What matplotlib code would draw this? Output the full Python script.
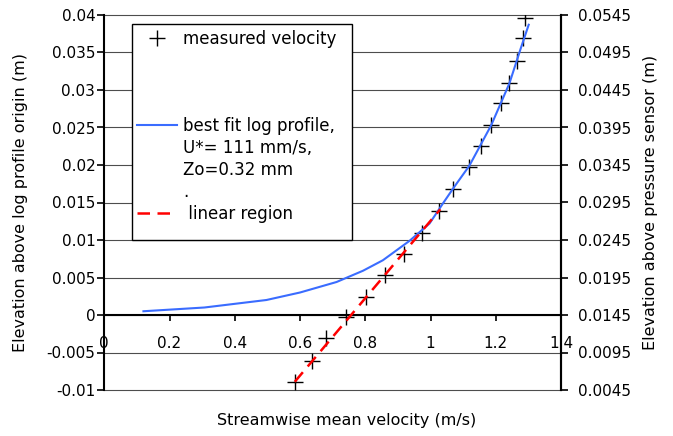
import matplotlib
matplotlib.use("Agg")
import matplotlib.pyplot as plt
from matplotlib.lines import Line2D
from matplotlib.patches import Rectangle

plt.rcParams['font.family'] = ['DejaVu Sans']
plt.rcParams['axes.unicode_minus'] = False

# measured velocity profile (m/s) vs elevation above log profile origin (m)
measured_u = [0.584, 0.638, 0.681, 0.740, 0.801, 0.860, 0.920, 0.973, 1.025,
              1.070, 1.117, 1.154, 1.186, 1.216, 1.242, 1.265, 1.285, 1.291]
measured_z = [-0.0089, -0.0061, -0.0031, -0.0002, 0.0024, 0.0053, 0.0082, 0.0110, 0.0139,
              0.0168, 0.0197, 0.0225, 0.0253, 0.0282, 0.0309, 0.0339, 0.0369, 0.0396]

# best fit log profile
fit_u = [0.120, 0.307, 0.497, 0.600, 0.712, 0.793, 0.854, 0.936, 0.997,
         1.040, 1.073, 1.119, 1.186, 1.242, 1.277, 1.301]
fit_z = [0.0005, 0.001, 0.002, 0.003, 0.0044, 0.0059, 0.0073, 0.0099, 0.0122,
         0.0150, 0.0171, 0.0199, 0.0253, 0.0309, 0.0356, 0.0387]

# linear region fit
linear_u = [0.584, 1.030]
linear_z = [-0.0089, 0.0141]

x_ticks = [0, 0.2, 0.4, 0.6, 0.8, 1.0, 1.2, 1.4]
x_labels = ["0", "0.2", "0.4", "0.6", "0.8", "1", "1.2", "1.4"]
y_ticks = [-0.01, -0.005, 0, 0.005, 0.01, 0.015, 0.02, 0.025, 0.03, 0.035, 0.04]
y_labels = ["-0.01", "-0.005", "0", "0.005", "0.01", "0.015", "0.02", "0.025",
            "0.03", "0.035", "0.04"]
sensor_offset = 0.0145
right_labels = ["0.0045", "0.0095", "0.0145", "0.0195", "0.0245", "0.0295",
                "0.0345", "0.0395", "0.0445", "0.0495", "0.0545"]

tick_fs = 11
label_fs = 11.5
legend_fs = 12
blue = '#3a6cff'

fig = plt.figure(figsize=(6.73, 4.36), dpi=100)
ax = fig.add_axes([104.3 / 673, 1 - 390 / 436, 456.7 / 673, 375 / 436])

ax.plot(measured_u, measured_z, linestyle='none', marker='+', color='black',
        markersize=11, markeredgewidth=1.0, zorder=3)
ax.plot(fit_u, fit_z, color=blue, linewidth=1.5, zorder=4)
ax.plot(linear_u, linear_z, color='red', linewidth=1.8, dashes=(5, 3), zorder=5)

ax.set_xlim(0, 1.4)
ax.set_ylim(-0.01, 0.04)

ax.spines['top'].set_visible(False)
ax.spines['bottom'].set_position(('data', 0))
ax.spines['left'].set_linewidth(1.5)
ax.spines['right'].set_linewidth(1.5)
ax.spines['bottom'].set_linewidth(1.5)

ax.set_xticks(x_ticks, x_labels)
ax.set_yticks(y_ticks, y_labels)
ax.tick_params(axis='x', direction='out', length=4, width=1.2, pad=11, labelsize=tick_fs)
ax.tick_params(axis='y', direction='out', length=5, width=1.2, pad=1.5, labelsize=tick_fs)
ax.yaxis.grid(True, color='0.3', linewidth=0.8)
for gl in ax.yaxis.get_gridlines():
    gl.set_clip_on(False)
ax.set_axisbelow(True)

ax.set_xlabel("Streamwise mean velocity (m/s)", fontsize=label_fs)
ax.xaxis.set_label_coords(0.531, -0.061)
ax.set_ylabel("Elevation above log profile origin (m)", fontsize=label_fs)
ax.yaxis.set_label_coords(-0.166, 0.5)

ax2 = ax.twinx()
ax2.set_ylim(-0.01 + sensor_offset, 0.04 + sensor_offset)
ax2.set_yticks([t + sensor_offset for t in y_ticks], right_labels)
ax2.tick_params(axis='y', direction='out', length=5, width=1.2, pad=7.5, labelsize=tick_fs)
for s in ['top', 'bottom', 'left']:
    ax2.spines[s].set_visible(False)
ax2.spines['right'].set_linewidth(1.5)
ax2.set_ylabel("Elevation above pressure sensor (m)", fontsize=label_fs)
ax2.yaxis.set_label_coords(1.1795, 0.5)

# legend box (white, black edge) drawn separately so its size matches
ax2.add_patch(Rectangle((0.0607, 0.4), 0.4817, 0.576, transform=ax2.transAxes,
                        facecolor='white', edgecolor='black', linewidth=1.0, zorder=6))

blank = Line2D([], [], linestyle='none')
handles = [
    Line2D([], [], linestyle='none', marker='+', color='black', markersize=11, markeredgewidth=1.0),
    blank, blank, blank,
    Line2D([], [], color=blue, linewidth=1.5),
    blank, blank, blank,
    Line2D([], [], color='red', linewidth=1.8, dashes=(5, 3)),
]
labels = ["measured velocity", "", "", "",
          "best fit log profile,", "U*= 111 mm/s,", "Zo=0.32 mm", ".",
          " linear region"]
leg = ax2.legend(handles, labels, loc='upper left', bbox_to_anchor=(0.0716, 0.96),
                 borderaxespad=0, borderpad=0, fontsize=legend_fs, frameon=False,
                 handlelength=2.4, handletextpad=0.36, labelspacing=0.23)
leg.set_zorder(7)

fig.savefig("out.png", dpi=100)
